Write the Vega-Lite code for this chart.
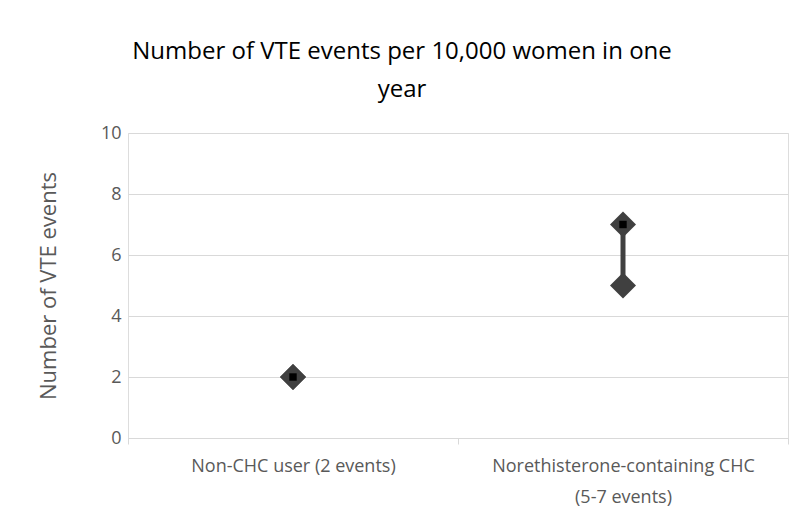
{
  "$schema": "https://vega.github.io/schema/vega-lite/v6.json",
  "width": 660,
  "height": 305,
  "autosize": "none",
  "padding": {"left": 128, "top": 133, "right": 10, "bottom": 83},
  "background": "white",
  "title": {
    "text": ["Number of VTE events per 10,000 women in one", "year"],
    "font": "Open Sans",
    "fontSize": 24,
    "fontWeight": "normal",
    "color": "#000000",
    "lineHeight": 38,
    "anchor": "middle",
    "frame": "group",
    "dx": -56,
    "offset": 22
  },
  "data": {
    "values": [
      {"group": "Non-CHC user (2 events)", "low": 2, "high": 2, "close": 2},
      {"group": "Norethisterone-containing CHC (5-7 events)", "low": 5, "high": 7, "close": 7}
    ]
  },
  "encoding": {
    "x": {
      "field": "group",
      "type": "nominal",
      "sort": null,
      "scale": {"paddingInner": 0, "paddingOuter": 0},
      "axis": {
        "title": null,
        "labelAngle": 0,
        "labelFont": "Open Sans",
        "labelFontSize": 18,
        "labelColor": "#595959",
        "labelPadding": 13,
        "labelLineHeight": 31,
        "labelLimit": 0,
        "labelExpr": "datum.value == 'Norethisterone-containing CHC (5-7 events)' ? ['Norethisterone-containing CHC', '(5-7 events)'] : datum.label",
        "tickBand": "extent",
        "ticks": true,
        "tickSize": 6,
        "tickColor": "#d9d9d9",
        "domainColor": "#d9d9d9",
        "grid": false
      }
    }
  },
  "layer": [
    {
      "mark": {"type": "rule", "strokeWidth": 5, "color": "#404040"},
      "encoding": {
        "y": {
          "field": "low",
          "type": "quantitative",
          "scale": {"domain": [0, 10]},
          "axis": {
            "title": "Number of VTE events",
            "titleFont": "Open Sans",
            "titleFontSize": 22,
            "titleFontWeight": "normal",
            "titleColor": "#595959",
            "titlePadding": 40,
            "values": [0, 2, 4, 6, 8, 10],
            "labelFont": "Open Sans",
            "labelFontSize": 18,
            "labelColor": "#595959",
            "labelPadding": 7,
            "ticks": false,
            "domain": false,
            "grid": true,
            "gridColor": "#d9d9d9",
            "gridWidth": 1
          }
        },
        "y2": {"field": "high"}
      }
    },
    {
      "mark": {"type": "point", "shape": "diamond", "filled": true, "size": 676, "color": "#404040", "opacity": 1},
      "encoding": {"y": {"field": "low", "type": "quantitative"}}
    },
    {
      "mark": {"type": "point", "shape": "diamond", "filled": true, "size": 676, "color": "#404040", "opacity": 1},
      "encoding": {"y": {"field": "high", "type": "quantitative"}}
    },
    {
      "mark": {"type": "point", "shape": "square", "filled": true, "size": 55, "color": "#000000", "opacity": 1},
      "encoding": {"y": {"field": "close", "type": "quantitative"}}
    }
  ]
}
